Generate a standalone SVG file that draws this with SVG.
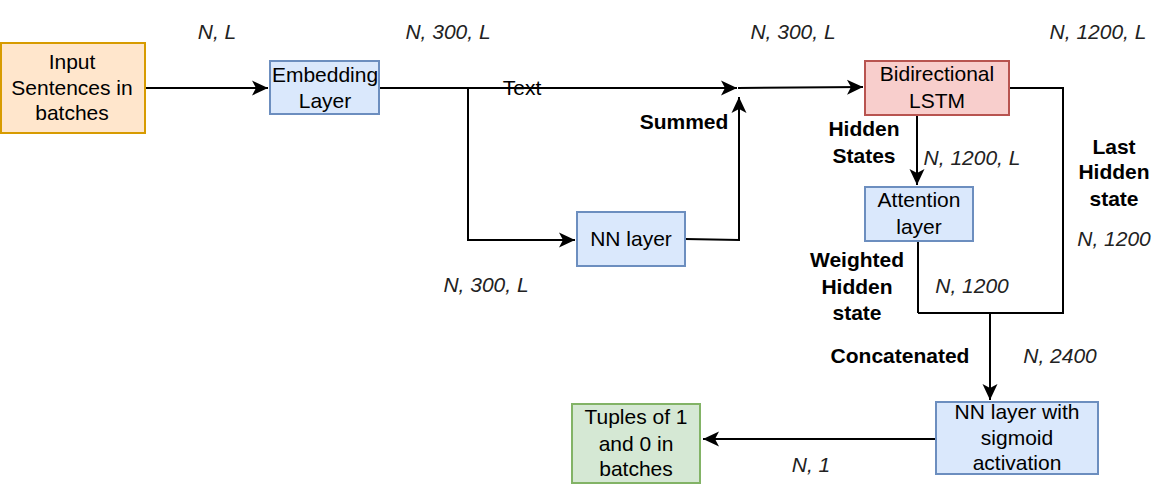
<svg xmlns="http://www.w3.org/2000/svg" width="1171" height="493" viewBox="0 0 1171 493">
<style>
text{font-family:"Liberation Sans",Arial,sans-serif;font-size:21px;fill:#000;text-anchor:middle}
.i{font-style:italic;fill:#222}
.b{font-weight:bold}
.c{fill:none;stroke:#000;stroke-width:2}
.blue{fill:#dae8fc;stroke:#6c8ebf;stroke-width:2}
</style>
<defs>
<marker id="a" markerUnits="userSpaceOnUse" viewBox="-17 -9 18 18" refX="0" refY="0" markerWidth="18" markerHeight="18" orient="auto">
<path d="M0,0 L-16,-7.5 L-12,0 L-16,7.5 Z" fill="#000"/>
</marker>
</defs>
<rect width="1171" height="493" fill="#fff"/>
<g id="connectors">
<path class="c" d="M145,88 H268" marker-end="url(#a)"/>
<path class="c" d="M379,88 H737" marker-end="url(#a)"/>
<path class="c" d="M468,88 V240 H575" marker-end="url(#a)"/>
<path class="c" d="M685,239 L739,240 V97" marker-end="url(#a)"/>
<path class="c" d="M738,88 L863,87" marker-end="url(#a)"/>
<path class="c" d="M917,115 V185" marker-end="url(#a)"/>
<path class="c" d="M1009,88 H1063 V313 H918"/>
<path class="c" d="M918,241 V313"/>
<path class="c" d="M990,313 V400" marker-end="url(#a)"/>
<path class="c" d="M936,439 H703" marker-end="url(#a)"/>
</g>
<g id="input">
<rect x="1" y="43" width="144" height="90" fill="#ffe6cc" stroke="#d79b00" stroke-width="2"/>
<text x="72" y="69">Input</text>
<text x="72" y="95">Sentences in</text>
<text x="72" y="120">batches</text>
</g>
<g id="embedding">
<rect class="blue" x="270" y="61" width="109" height="53"/>
<text x="325" y="82">Embedding</text>
<text x="325" y="108">Layer</text>
</g>
<g id="nn">
<rect class="blue" x="577" y="212" width="108" height="54"/>
<text x="631" y="246">NN layer</text>
</g>
<g id="lstm">
<rect x="865" y="61" width="144" height="54" fill="#f8cecc" stroke="#b85450" stroke-width="2"/>
<text x="937" y="81">Bidirectional</text>
<text x="937" y="108">LSTM</text>
</g>
<g id="attention">
<rect class="blue" x="865" y="187" width="108" height="54"/>
<text x="919" y="207">Attention</text>
<text x="919" y="234">layer</text>
</g>
<g id="sigmoid">
<rect class="blue" x="936" y="402" width="162" height="72"/>
<text x="1017" y="419">NN layer with</text>
<text x="1017" y="445">sigmoid</text>
<text x="1017" y="470">activation</text>
</g>
<g id="tuples">
<rect x="572" y="404" width="128" height="79" fill="#d5e8d4" stroke="#82b366" stroke-width="2"/>
<text x="636" y="424">Tuples of 1</text>
<text x="636" y="451">and 0 in</text>
<text x="636" y="476">batches</text>
</g>
<g id="labels">
<text class="i" x="217" y="39">N, L</text>
<text class="i" x="448" y="39">N, 300, L</text>
<text class="i" x="793" y="39">N, 300, L</text>
<text class="i" x="1098" y="39">N, 1200, L</text>
<text x="522" y="95">Text</text>
<text class="b" x="684" y="129">Summed</text>
<text class="i" x="486" y="292">N, 300, L</text>
<text class="b" x="864" y="136">Hidden</text>
<text class="b" x="864" y="163">States</text>
<text class="i" x="972" y="165">N, 1200, L</text>
<text class="b" x="1114" y="154">Last</text>
<text class="b" x="1114" y="179">Hidden</text>
<text class="b" x="1114" y="206">state</text>
<text class="i" x="1114" y="246">N, 1200</text>
<text class="b" x="857" y="267">Weighted</text>
<text class="b" x="857" y="294">Hidden</text>
<text class="b" x="857" y="320">state</text>
<text class="i" x="972" y="293">N, 1200</text>
<text class="b" x="900" y="363">Concatenated</text>
<text class="i" x="1060" y="363">N, 2400</text>
<text class="i" x="811" y="472">N, 1</text>
</g>
</svg>
